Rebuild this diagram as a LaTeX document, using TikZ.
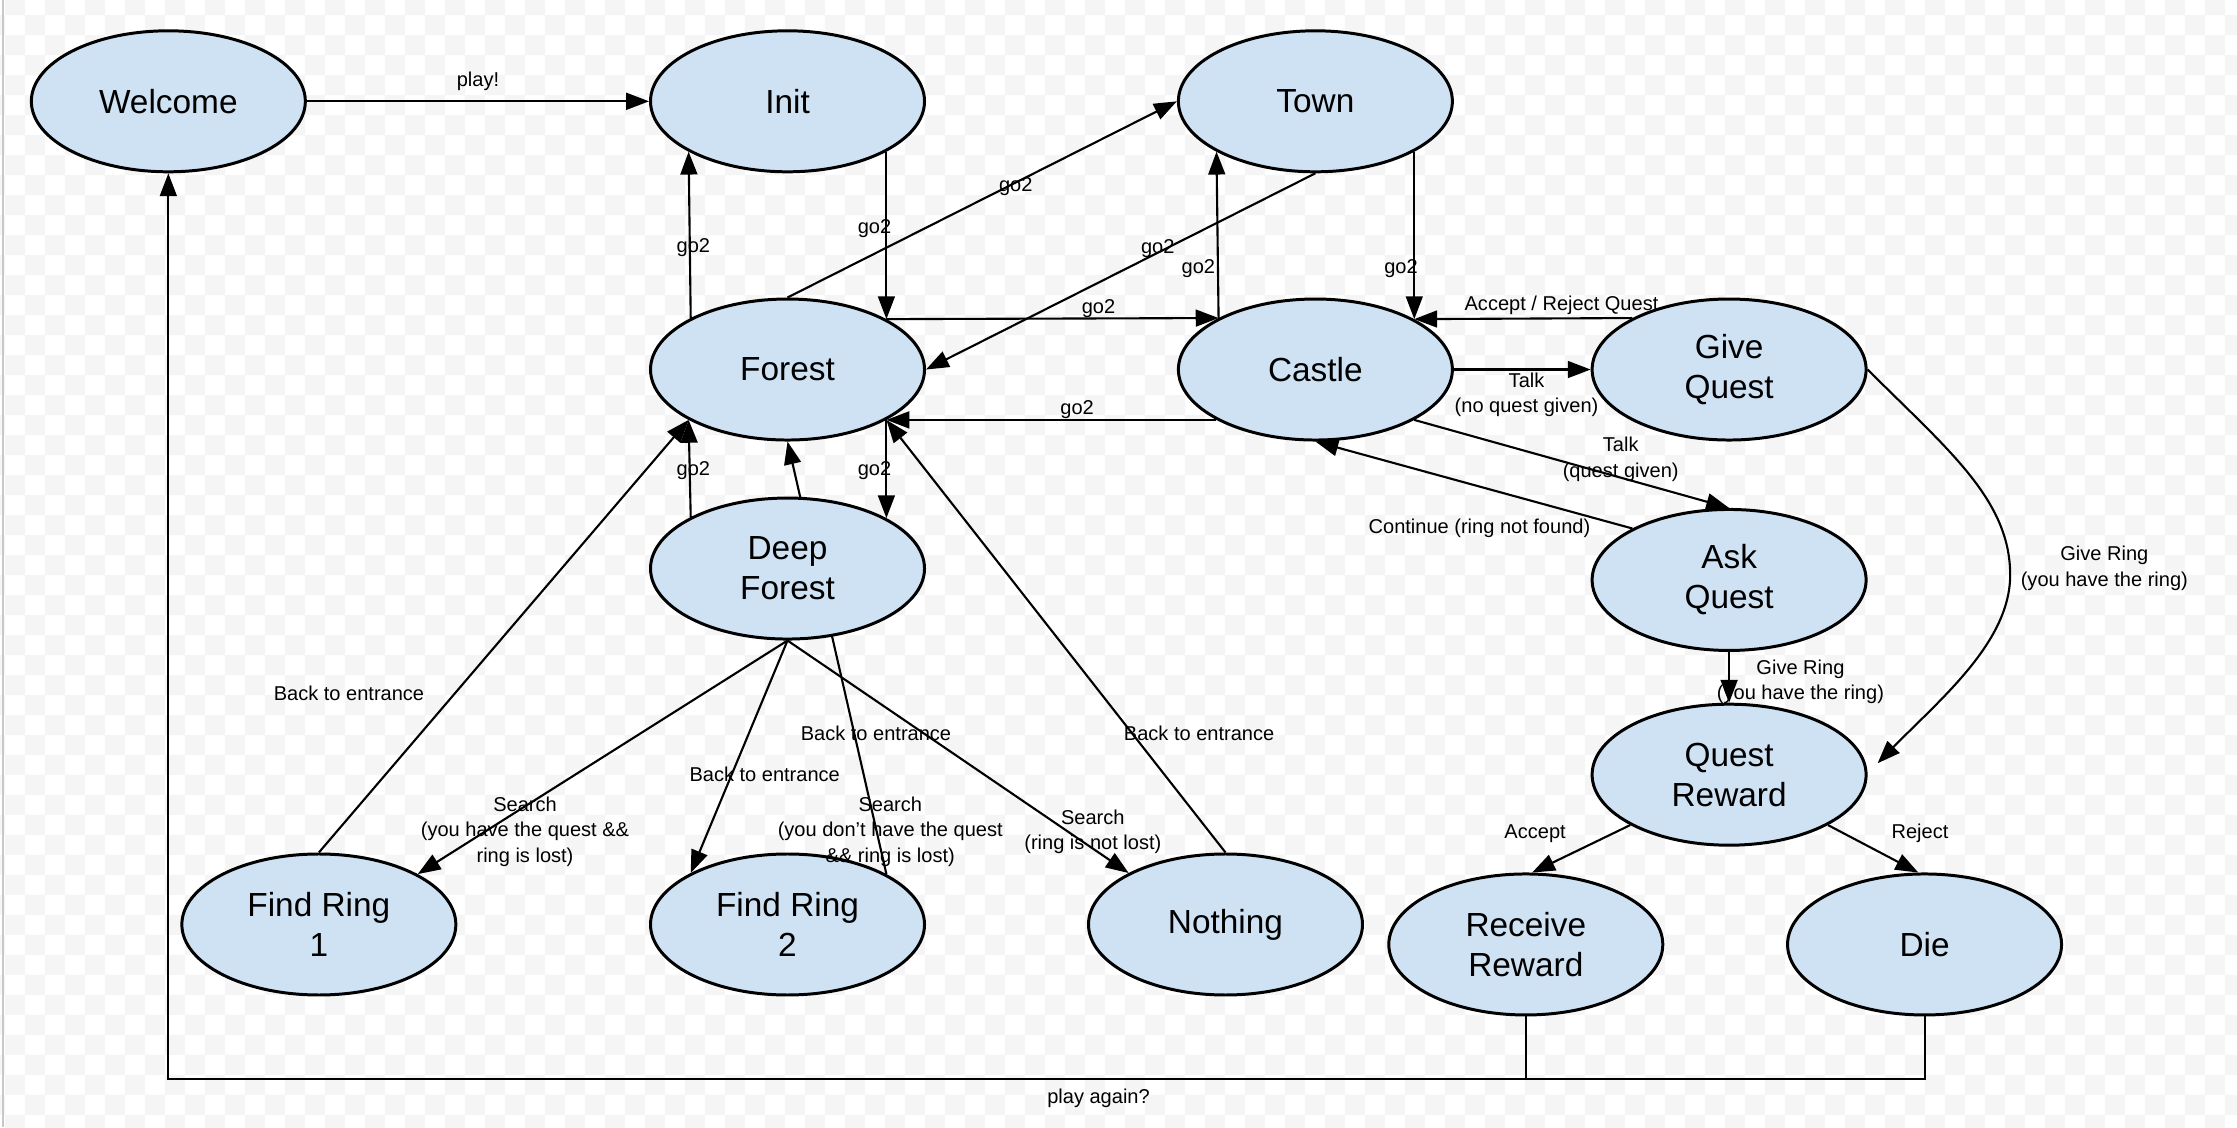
\documentclass[tikz,border=0pt]{standalone}
\usepackage{fontspec}
\setmainfont{Liberation Sans}
\usetikzlibrary{arrows.meta,shapes.geometric}
\pgfdeclarelayer{bg}
\pgfdeclarelayer{edges}
\pgfsetlayers{bg,edges,main}
\definecolor{nodeblue}{HTML}{CFE2F3}
\definecolor{checker}{HTML}{F5F5F5}
\definecolor{edgegray}{HTML}{C8C8C8}
\begin{document}
\begin{tikzpicture}[x=0.014267cm,y=-0.014267cm,
  state/.style={ellipse, draw=black, line width=0.85pt, fill=nodeblue,
    minimum width=2.74cm, minimum height=1.41cm, inner sep=0pt, align=center,
    font=\fontsize{9.5}{11.4}\selectfont},
  conn/.style={line width=0.6pt, -{Triangle[length=6.5pt,width=4.8pt]}},
  plainline/.style={line width=0.6pt},
  lbl/.style={font=\fontsize{5.7}{7.2}\selectfont, align=center, inner sep=0pt},
]
\useasboundingbox (0,0) rectangle (1568,790);
\begin{pgfonlayer}{bg}
  \fill[white] (0,0) rectangle (1568,790);
  \begin{scope}
    \clip (0,0) rectangle (1568,790);
    \begin{scope}[x=0.2cm,y=-0.2cm,shift={(0.05cm,-0.15cm)}]
      \fill[checker] \foreach \i in {0,2,...,112} {\foreach \j in {-1,1,...,57} {(\i,\j) rectangle ++(1,1)}};
      \fill[checker] \foreach \i in {-1,1,...,111} {\foreach \j in {0,2,...,56} {(\i,\j) rectangle ++(1,1)}};
    \end{scope}
  \end{scope}
  \draw[edgegray, line width=0.4pt] (2.1,0) -- (2.1,790);
\end{pgfonlayer}

% states
\node[state] (welcome) at (118,71) {Welcome};
\node[state] (init) at (552,71) {Init};
\node[state] (town) at (922,71) {Town};
\node[state] (forest) at (552,259) {Forest};
\node[state] (castle) at (922,259) {Castle};
\node[state] (gq) at (1212,259) {Give\\Quest};
\node[state] (df) at (552,398.5) {Deep\\Forest};
\node[state] (aq) at (1212,406.5) {Ask\\Quest};
\node[state] (qr) at (1212,543) {Quest\\Reward};
\node[state] (fr1) at (223.5,648) {Find Ring\\1};
\node[state] (fr2) at (552,648) {Find Ring\\2};
\node[state] (nothing) at (859,648) {Nothing};
\node[state] (rr) at (1069.5,662) {Receive\\Reward};
\node[state] (die) at (1349,662) {Die};

\coordinate (gqmid) at (1409,403);
\coordinate (loopbl) at (118,756);

\begin{pgfonlayer}{edges}
  \draw[conn] (welcome.east) -- (init.west);
  \draw[conn] (forest.152.7) -- (init.207.3);
  \draw[conn] (init.-27.3) -- (forest.27.3);
  \draw[conn] (forest.north) -- (town.west);
  \draw[conn] (town.south) -- (forest.east);
  \draw[conn] (castle.152.7) -- (town.207.3);
  \draw[conn] (town.-27.3) -- (castle.27.3);
  \draw[conn] (forest.27.3) -- (castle.152.7);
  \draw[conn] (castle.207.3) -- (forest.-27.3);
  \draw[conn] (gq.152.7) -- (castle.27.3);
  \draw[conn] (castle.east) -- (gq.west);
  \draw[conn] (castle.-27.3) -- (aq.north);
  \draw[conn] (aq.152.7) -- (castle.south);
  \draw[conn] (gq.east) .. controls (1365,315) and (1409,350) .. (gqmid)
              .. controls (1409,450) and (1360,490) .. ([shift={(7,-8)}]qr.east);
  \draw[conn] (aq.south) -- (qr.north);
  \draw[conn] (qr.207.3) -- (rr.85);
  \draw[conn] (qr.-27.3) -- (die.95);
  \draw[conn] (die.south) |- (loopbl) -- (welcome.south);
  \draw[plainline] (rr.south) -- (rr.south |- loopbl);
  \draw[conn] (df.152.7) -- (forest.207.3);
  \draw[conn] (forest.-27.3) -- (df.27.3);
  \draw[conn] (fr2.27.3) -- (forest.south);
  \draw[conn] (df.south) -- (fr1.27.3);
  \draw[conn] (df.south) -- (fr2.152.7);
  \draw[conn] (df.south) -- (nothing.152.7);
  \draw[conn] (nothing.north) -- (forest.-27.3);
  \draw[conn] (fr1.north) -- (forest.207.3);
\end{pgfonlayer}

% labels
\node[lbl] (lplay) at (335,57) {play!};
\node[lbl] (lg1) at (486,173.6) {go2};
\node[lbl] (lg2) at (613,160) {go2};
\node[lbl] (lg3) at (712,131) {go2};
\node[lbl] (lg4) at (811.5,174) {go2};
\node[lbl] (lg5) at (840,188) {go2};
\node[lbl] (lg6) at (982,188) {go2};
\node[lbl] (lg7) at (770,216) {go2};
\node[lbl] (lg8) at (755,287) {go2};
\node[lbl] (lg9) at (486,330) {go2};
\node[lbl] (lg10) at (613,330) {go2};
\node[lbl] (lar) at (1094.5,213.8) {Accept / Reject Quest};
\node[lbl] (ltalk1) at (1070,276.7) {Talk\\(no quest given)};
\node[lbl] (ltalk2) at (1136,322) {Talk\\(quest given)};
\node[lbl] (lcont) at (1037,370.5) {Continue (ring not found)};
\node[lbl] (lgr1) at (1475,398.4) {Give Ring\\(you have the ring)};
\node[lbl] (lgr2) at (1262,477.8) {Give Ring\\(you have the ring)};
\node[lbl] (lacc) at (1076,584) {Accept};
\node[lbl] (lrej) at (1345.8,584) {Reject};
\node[lbl] (lagain) at (770,770) {play again?};
\node[lbl] (lb1) at (244.6,485.9) {Back to entrance};
\node[lbl] (lb2) at (536,542.4) {Back to entrance};
\node[lbl] (lb3) at (614,514) {Back to entrance};
\node[lbl] (lb4) at (840.5,514) {Back to entrance};
\node[lbl] (ls1) at (368,583) {Search\\(you have the quest \&\&\\ring is lost)};
\node[lbl] (ls2) at (624,583) {Search\\(you don't have the quest\\\&\& ring is lost)};
\node[lbl] (ls3) at (766,583) {Search\\(ring is not lost)};
\end{tikzpicture}
\end{document}
